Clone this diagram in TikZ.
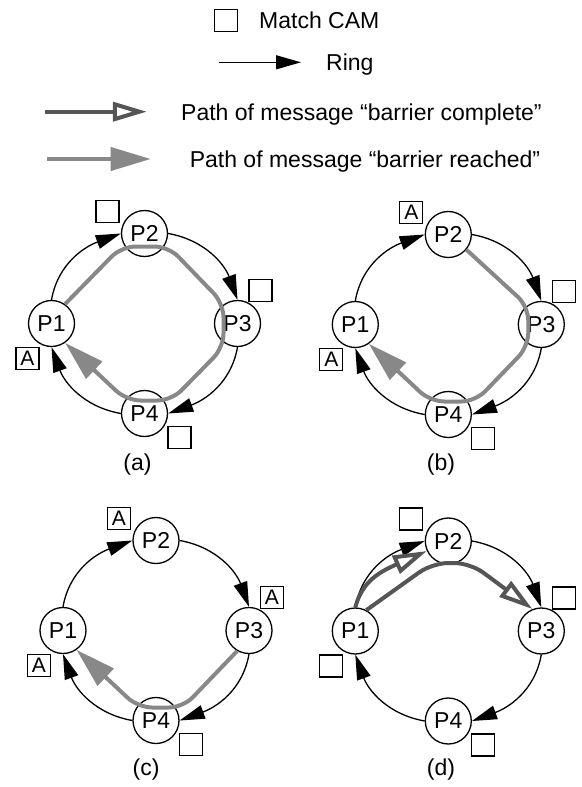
\documentclass[tikz,border=0pt]{standalone}
\usepackage{fontspec}
\setmainfont{Liberation Sans}
\usetikzlibrary{arrows.meta}
\definecolor{reachgray}{HTML}{888888}
\definecolor{donegray}{HTML}{555555}
\tikzset{
  proc/.style={circle, draw, line width=1.3pt, fill=white, minimum size=46pt,
    inner sep=0pt, font=\fontsize{23}{27}\selectfont},
  cam/.style={draw, line width=1.2pt, minimum width=23pt, minimum height=22pt,
    inner sep=0pt, font=\fontsize{21}{25}\selectfont},
  ring/.style={line width=1.3pt, -{Triangle[length=25pt,width=14pt]}},
  reached/.style={reachgray, line width=4pt, rounded corners=14pt,
    -{Triangle[length=40pt,width=23pt]}},
  complete/.style={donegray, line width=4pt,
    -{Triangle[open,length=34pt,width=19pt]}},
  legtext/.style={anchor=base west, inner sep=0pt, font=\fontsize{23}{27}\selectfont},
  caption/.style={inner sep=0pt, font=\fontsize{23}{27}\selectfont},
}
% One ring of four processors with their match-CAM boxes.
% #1 prefix, #2 #3 centre, #4..#7 CAM contents of P1..P4
\newcommand\RingPanel[7]{%
  \begin{scope}[shift={(#2,#3)}]
    \node[proc] (#1p1) at (-93,0) {P1};
    \node[proc] (#1p2) at (0,90) {P2};
    \node[proc] (#1p3) at (93,0) {P3};
    \node[proc] (#1p4) at (0,-90) {P4};
    \draw[ring] (#1p1.north) to[out=80,in=200] (#1p2.west);
    \draw[ring] (#1p2.east) to[out=-10,in=110] (#1p3.north);
    \draw[ring] (#1p3.south) to[out=-100,in=20] (#1p4.east);
    \draw[ring] (#1p4.west) to[out=170,in=-70] (#1p1.south);
    \node[cam] (#1c1) at (-117,-35) {#4};
    \node[cam] (#1c2) at (-37,112) {#5};
    \node[cam] (#1c3) at (116,33) {#6};
    \node[cam] (#1c4) at (35,-114) {#7};
  \end{scope}}

\begin{document}
\begin{tikzpicture}[x=1pt,y=1pt]
  \useasboundingbox (0,0) rectangle (581,-787);

  % legend
  \node[cam] (lgcam) at (226,-20.5) {};
  \node[legtext] (lgcamtext) at (259,-28.7) {Match CAM};
  \coordinate (lgr1) at (219,-62.3);
  \coordinate (lgr2) at (301,-62.3);
  \draw[ring] (lgr1) -- (lgr2);
  \node[legtext] (lgringtext) at (326,-70.5) {Ring};
  \coordinate (lgc1) at (44.6,-111.7);
  \coordinate (lgc2) at (146.8,-111.7);
  \draw[complete] (lgc1) -- (lgc2);
  \node[legtext] (lgctext) at (181,-120) {Path of message “barrier complete”};
  \coordinate (lgg1) at (46.7,-159);
  \coordinate (lgg2) at (150.7,-159);
  \draw[reached] (lgg1) -- (lgg2);
  \node[legtext] (lggtext) at (189.6,-167) {Path of message “barrier reached”};

  % (a)
  \RingPanel{a}{144.5}{-323.5}{A}{}{}{}
  \begin{scope}[shift={(144.5,-323.5)}]
    \draw[reached] (ap1.55) -- (-23,77) -- (24,77) -- (79,20) -- (79,-24)
      -- (27,-77) -- (-18,-77) -- (ap1.-55);
  \end{scope}
  \node[caption] (capa) at (137.5,-465) {(a)};

  % (b)
  \RingPanel{b}{448.3}{-324.5}{A}{A}{}{}
  \begin{scope}[shift={(448.3,-324.5)}]
    \draw[reached] (bp2.-40) -- (80,18) -- (80,-22)
      -- (27,-77) -- (-18,-77) -- (bp1.-55);
  \end{scope}
  \node[caption] (capb) at (441,-465) {(b)};

  % (c)
  \RingPanel{c}{156}{-630.5}{A}{A}{A}{}
  \begin{scope}[shift={(156,-630.5)}]
    \draw[reached] (cp3.240) -- (27,-77) -- (-18,-77) -- (cp1.-55);
  \end{scope}
  \node[caption] (capc) at (146,-770) {(c)};

  % (d)
  \RingPanel{d}{448.3}{-631}{}{}{}{}
  \begin{scope}[shift={(448.3,-631)}]
    \coordinate (dbend) at (-54.6,65.3);
    \draw[complete] (dp1.north) to[out=75,in=204] (dbend) -- (dp2.205);
    \draw[complete, rounded corners=16pt] (dp1.62) -- (-16,68) -- (22,68) -- (dp3.112);
  \end{scope}
  \node[caption] (capd) at (441,-770) {(d)};
\end{tikzpicture}
\end{document}
